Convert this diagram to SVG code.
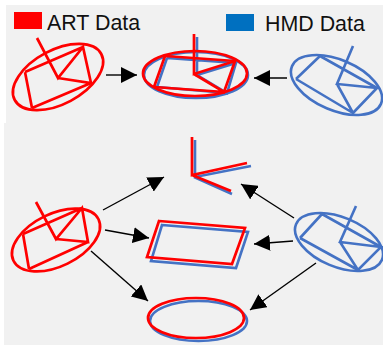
<svg xmlns="http://www.w3.org/2000/svg" width="383" height="345" viewBox="0 0 383 345">
<defs>
<marker id="ah" markerUnits="userSpaceOnUse" markerWidth="17" markerHeight="16" refX="16" refY="8" orient="auto"><path d="M0 0L16 8L0 16Z" fill="#000"/></marker>
</defs>
<style>
.r{fill:none;stroke:#ff0000;stroke-width:2.7}
.b{fill:none;stroke:#4472c4;stroke-width:2.6}
.c{fill:none;stroke:#000;stroke-width:1.4;marker-end:url(#ah)}
text{font-family:"Liberation Sans",Arial,sans-serif;font-size:21.4px;fill:#111}
</style>
<rect width="383" height="345" fill="#fff"/>
<rect x="6" y="5" width="377" height="118" fill="#f1f1f1"/>
<rect x="4" y="123" width="379" height="222" fill="#f1f1f1"/>
<g id="legend-art"><rect x="14" y="12" width="28" height="17" fill="#ff0000"/><text x="47" y="30">ART Data</text></g>
<g id="legend-hmd"><rect x="226" y="14" width="28" height="17" fill="#0070c0"/><text x="265" y="31">HMD Data</text></g>
<g id="connectors">
<path class="c" d="M106 75H137"/>
<path class="c" d="M287 78H254"/>
<path class="c" d="M103 210L164 177"/>
<path class="c" d="M105 230L149 238"/>
<path class="c" d="M91 251L148 301"/>
<path class="c" d="M294 218L241 184"/>
<path class="c" d="M293 241L254 244"/>
<path class="c" d="M316 263L250 310"/>
</g>
<g id="art-top">
<ellipse class="r" cx="58" cy="77" rx="49" ry="27" transform="rotate(-28 58 77)"/>
<path class="r" d="M37 38L58 78L83 47L91 83L58 78M25 72L83 47M32 108L91 83M25 72L32 108"/>
</g>
<g id="merged-top">
<ellipse class="b" cx="196" cy="75" rx="52" ry="23"/>
<path class="b" d="M197 37V75L236 63L227 93L197 75M167 58L236 63M157 87L227 93M167 58L157 87"/>
<ellipse class="r" cx="195" cy="73.500" rx="52" ry="22.500"/>
<path class="r" d="M194 34V74L235 61L224 92L194 74M165 56L235 61M154 87L224 92M165 56L154 87"/>
</g>
<g id="hmd-top">
<ellipse class="b" cx="336.500" cy="85" rx="48.300" ry="25.300" transform="rotate(23 336.500 85)"/>
<path class="b" d="M353 46L337 84L377 88L353 113L337 84M320 56L377 88M296 79L353 113M320 56L296 79"/>
</g>
<g id="art-bottom">
<ellipse class="r" cx="56" cy="240" rx="47.300" ry="26.300" transform="rotate(-26 56 240)"/>
<path class="r" d="M36 202L56 239L82 208L88 242L56 239M23 234L82 208M29 269L88 242M23 234L29 269"/>
</g>
<g id="axes-merged">
<path class="b" d="M195 140V177L251 166M194 177L232 194"/>
<path class="r" d="M192 137V175L247 163M192 175L231 191"/>
</g>
<g id="rect-merged">
<path class="b" d="M162 225L248 232L236 268L151 261Z"/>
<path class="r" d="M159 221L245 228L232 264L147 257Z"/>
</g>
<g id="ellipse-merged">
<ellipse class="b" cx="198.500" cy="321" rx="48.500" ry="20"/>
<ellipse class="r" cx="196" cy="318" rx="48" ry="20"/>
</g>
<g id="hmd-bottom">
<ellipse class="b" cx="339" cy="242" rx="46.500" ry="24.800" transform="rotate(22.500 339 242)"/>
<path class="b" d="M356 206L340 242L381 247L358 270L340 242M322 214L381 247M300 238L358 270M322 214L300 238"/>
</g>
</svg>
